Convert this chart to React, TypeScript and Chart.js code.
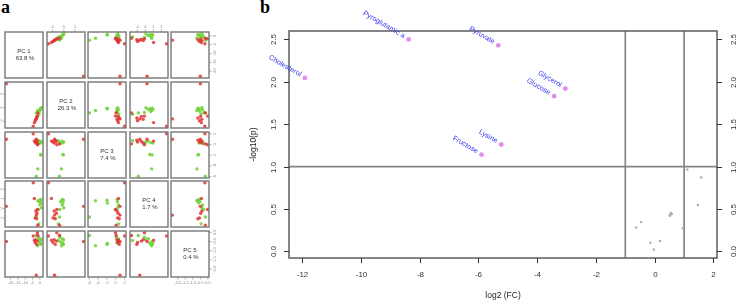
import React, { useEffect, useRef } from 'react';
import { Chart, registerables } from 'chart.js';

Chart.register(...registerables);

// ---------------- panel a : PCA score pairs ----------------
const pcNames = ['PC 1', 'PC 2', 'PC 3', 'PC 4', 'PC 5'];
const pcVariance = ['63.8 %', '26.3 %', '7.4 %', '1.7 %', '0.4 %'];

const pc1Red = [-22.9, -4.5, -2.45, -1.4, -3.75, -3.2, -2.7, -2.2, -1.65, -1.95];
const pc2Red = [8.8, -6.88, -4.15, -1.94, -5.52, -4.83, -4.32, -3.81, -3.13, -3.3];
const pc3Red = [0.99, 2.03, 0.99, 0.13, 0.65, 0.47, 0.3, 0.82, -0.05, 0.56];
const pc4Red = [0.21, 2.67, -0.7, -1.76, 1.03, -0.99, -0.27, -1.08, -0.12, -0.51];
const pc5Red = [-0.5, -0.2, -2.35, -0.17, -0.43, -0.56, -0.4, -0.66, -0.02, -0.48];

const pc1Green = [0.65, 0.65, -1.4, -2.45, 1.2, 0.15, -0.35, -0.9, -0.65, 0.4];
const pc2Green = [-0.4, -0.23, -1.08, -1.94, -0.06, -0.74, -1.43, -1.77, -2.45, -0.57];
const pc3Green = [-1.87, -1.95, -4.56, -5.94, 0.47, 0.65, 0.39, 0.13, 0.73, 0.3];
const pc4Green = [0.55, 0.84, 0.79, -0.89, 0.07, 0.36, 0.7, -0.12, -1.61, 0.94];
const pc5Green = [-0.61, -0.66, -0.73, -0.17, -0.4, -0.35, -0.53, -0.27, -0.45, -0.58];

const pc1Ticks = [-20, -15, -10, -5, 0];
const pc2Ticks = [-5, 0, 5];
const pc3Ticks = [-6, -4, -2, 0, 2];
const pc4Ticks = [-1, 0, 1, 2];
const pc5Ticks = [-2, -1.5, -1, -0.5, 0];

const pcRed = [pc1Red, pc2Red, pc3Red, pc4Red, pc5Red];
const pcGreen = [pc1Green, pc2Green, pc3Green, pc4Green, pc5Green];
const pcTicks = [pc1Ticks, pc2Ticks, pc3Ticks, pc4Ticks, pc5Ticks];

// ---------------- panel b : volcano ----------------
const metabolites = ['Cholesterol', 'Pyroglutamic a', 'Pyruvate', 'Glycerol', 'Glucose', 'Lysine', 'Fructose'];
const sigLog2FC = [-11.9, -8.37, -5.32, -3.04, -3.42, -5.22, -5.89];
const sigNegLog10P = [2.045, 2.5, 2.43, 1.92, 1.83, 1.26, 1.14];
const nsLog2FC = [1.11, 1.58, 1.47, 0.96, 0.51, 0.55, 0.58, 0.53, -0.46, -0.63, -0.15, 0.18, -0.03];
const nsNegLog10P = [0.965, 0.87, 0.545, 0.27, 0.42, 0.45, 0.44, 0.43, 0.345, 0.28, 0.1, 0.12, 0.02];
const fcTicks = [-12, -10, -8, -6, -4, -2, 0, 2];
const pTicks = [0, 0.5, 1, 1.5, 2, 2.5];
const fcThresholds = [-1, 1];
const pThreshold = 1;

// ---------------- helpers ----------------
const FONT = '"Liberation Sans", Arial, sans-serif';

function extRange(values: number[]): [number, number] {
  const mn = Math.min(...values);
  const mx = Math.max(...values);
  const d = (mx - mn) * 0.04;
  return [mn - d, mx + d];
}

function fmtTick(v: number, ticks: number[]) {
  return ticks.some((t) => !Number.isInteger(t)) ? v.toFixed(1) : String(v);
}

// layout of the pairs grid
const colLeft = [5, 47, 88, 130, 171];
const rowTop = [32, 82, 132, 181, 231];
const CW = 38;
const CH = 46;
const M = 14;

const cellPlugin = {
  id: 'cell',
  afterDraw(chart: any, _args: any, opts: any) {
    const { ctx, chartArea: a } = chart;
    const i: number = opts.i;
    const j: number = opts.j;
    const xs = chart.scales.x;
    const ys = chart.scales.y;
    ctx.save();
    ctx.strokeStyle = '#777';
    ctx.lineWidth = 1.4;
    ctx.strokeRect(a.left, a.top, a.right - a.left, a.bottom - a.top);

    if (i === j) {
      ctx.fillStyle = '#333';
      ctx.font = `6px ${FONT}`;
      ctx.textAlign = 'center';
      ctx.textBaseline = 'middle';
      const cx = (a.left + a.right) / 2;
      const cy = (a.top + a.bottom) / 2;
      ctx.fillText(pcNames[i], cx, cy - 3.6);
      ctx.fillText(pcVariance[i], cx + 1, cy + 3.8);
    }

    ctx.strokeStyle = '#888';
    ctx.lineWidth = 0.7;
    ctx.fillStyle = '#888';
    ctx.font = `3.8px ${FONT}`;
    ctx.textAlign = 'center';
    ctx.textBaseline = 'middle';
    const TL = 2.5;
    const LO = 5.5;
    if (i === 4 && j % 2 === 0) {
      const t = pcTicks[j];
      t.forEach((v) => {
        const px = xs.getPixelForValue(v);
        ctx.beginPath();
        ctx.moveTo(px, a.bottom);
        ctx.lineTo(px, a.bottom + TL);
        ctx.stroke();
        ctx.fillText(fmtTick(v, t), px, a.bottom + LO + 0.5);
      });
    }
    if (i === 0 && j % 2 === 1) {
      const t = pcTicks[j];
      t.forEach((v) => {
        const px = xs.getPixelForValue(v);
        ctx.beginPath();
        ctx.moveTo(px, a.top);
        ctx.lineTo(px, a.top - TL);
        ctx.stroke();
        ctx.fillText(fmtTick(v, t), px, a.top - LO);
      });
    }
    if (j === 0 && i % 2 === 1) {
      const t = pcTicks[i];
      t.forEach((v) => {
        const py = ys.getPixelForValue(v);
        ctx.beginPath();
        ctx.moveTo(a.left, py);
        ctx.lineTo(a.left - TL, py);
        ctx.stroke();
        ctx.save();
        ctx.translate(a.left - LO + 1.5, py);
        ctx.rotate(-Math.PI / 2);
        ctx.fillText(fmtTick(v, t), 0, 0);
        ctx.restore();
      });
    }
    if (j === 4 && i % 2 === 0) {
      const t = pcTicks[i];
      t.forEach((v) => {
        const py = ys.getPixelForValue(v);
        ctx.beginPath();
        ctx.moveTo(a.right, py);
        ctx.lineTo(a.right + TL, py);
        ctx.stroke();
        ctx.save();
        ctx.translate(a.right + LO, py);
        ctx.rotate(-Math.PI / 2);
        ctx.fillText(fmtTick(v, t), 0, 0);
        ctx.restore();
      });
    }
    ctx.restore();
  },
};

function PairCell({ i, j }: { i: number; j: number }) {
  const ref = useRef<HTMLCanvasElement>(null);
  useEffect(() => {
    const canvas = ref.current;
    if (!canvas) return;
    const xr = extRange([...pcRed[j], ...pcGreen[j]]);
    const yr = extRange([...pcRed[i], ...pcGreen[i]]);
    const datasets =
      i === j
        ? []
        : [
            {
              label: 'group 1',
              data: pcRed[i].map((_, k) => ({ x: pcRed[j][k], y: pcRed[i][k] })),
              backgroundColor: 'rgba(226,52,52,0.85)',
              borderWidth: 0,
              pointRadius: 1.7,
            },
            {
              label: 'group 2',
              data: pcGreen[i].map((_, k) => ({ x: pcGreen[j][k], y: pcGreen[i][k] })),
              backgroundColor: 'rgba(115,212,60,0.9)',
              borderWidth: 0,
              pointRadius: 1.7,
            },
          ];
    const chart = new Chart(canvas, {
      type: 'scatter',
      data: { datasets },
      options: {
        animation: false,
        responsive: false,
        events: [],
        layout: { padding: M },
        scales: {
          x: { type: 'linear', display: false, min: xr[0], max: xr[1] },
          y: { type: 'linear', display: false, min: yr[0], max: yr[1] },
        },
        plugins: {
          legend: { display: false },
          tooltip: { enabled: false },
          cell: { i, j },
        } as any,
      },
      plugins: [cellPlugin as any],
    });
    return () => chart.destroy();
  }, [i, j]);
  return (
    <canvas
      ref={ref}
      width={CW + 2 * M}
      height={CH + 2 * M}
      style={{ position: 'absolute', left: colLeft[j] - M, top: rowTop[i] - M }}
    />
  );
}

const volcanoPlugin = {
  id: 'volcanoDecor',
  beforeDatasetsDraw(chart: any) {
    const { ctx, chartArea: a } = chart;
    const x = chart.scales.x;
    const y = chart.scales.y;
    ctx.save();
    ctx.strokeStyle = '#858585';
    ctx.lineWidth = 1.7;
    ctx.beginPath();
    const py = y.getPixelForValue(pThreshold);
    ctx.moveTo(a.left, py);
    ctx.lineTo(a.right, py);
    fcThresholds.forEach((v) => {
      const px = x.getPixelForValue(v);
      ctx.moveTo(px, a.top);
      ctx.lineTo(px, a.bottom);
    });
    ctx.stroke();
    ctx.restore();
  },
  afterDatasetsDraw(chart: any) {
    const { ctx, chartArea: a } = chart;
    const x = chart.scales.x;
    const y = chart.scales.y;
    ctx.save();
    // box
    ctx.strokeStyle = '#5e5e5e';
    ctx.lineWidth = 1.5;
    ctx.strokeRect(a.left, a.top, a.right - a.left, a.bottom - a.top);

    // ticks
    ctx.strokeStyle = '#333';
    ctx.lineWidth = 1;
    ctx.fillStyle = '#333';
    ctx.font = `8px ${FONT}`;
    ctx.textAlign = 'center';
    ctx.textBaseline = 'middle';
    fcTicks.forEach((v) => {
      const px = Math.round(x.getPixelForValue(v)) + 0.5;
      ctx.beginPath();
      ctx.moveTo(px, a.bottom);
      ctx.lineTo(px, a.bottom + 5);
      ctx.stroke();
      ctx.fillText(fmtTick(v, fcTicks), px, a.bottom + 17);
    });
    pTicks.forEach((v) => {
      const py = Math.round(y.getPixelForValue(v)) + 0.5;
      ctx.beginPath();
      ctx.moveTo(a.left, py);
      ctx.lineTo(a.left - 5, py);
      ctx.moveTo(a.right, py);
      ctx.lineTo(a.right + 5, py);
      ctx.stroke();
      const lab = v.toFixed(1);
      ctx.save();
      ctx.translate(a.left - 15, py);
      ctx.rotate(-Math.PI / 2);
      ctx.fillText(lab, 0, 0);
      ctx.restore();
      ctx.save();
      ctx.translate(a.right + 17, py);
      ctx.rotate(-Math.PI / 2);
      ctx.fillText(lab, 0, 0);
      ctx.restore();
    });

    // axis titles
    ctx.font = `8.5px ${FONT}`;
    ctx.fillStyle = '#222';
    ctx.fillText('log2 (FC)', (a.left + a.right) / 2, a.bottom + 38);
    ctx.save();
    ctx.translate(a.left - 35, (a.top + a.bottom) / 2);
    ctx.rotate(-Math.PI / 2);
    ctx.fillText('-log10(p)', 0, 0);
    ctx.restore();

    // point labels
    ctx.font = `7.2px ${FONT}`;
    ctx.fillStyle = '#3434f4';
    ctx.textAlign = 'right';
    metabolites.forEach((name, k) => {
      const px = x.getPixelForValue(sigLog2FC[k]);
      const py = y.getPixelForValue(sigNegLog10P[k]);
      ctx.save();
      ctx.translate(px, py);
      ctx.rotate(Math.PI / 6);
      ctx.fillText(name, -5, -0.5);
      ctx.restore();
    });
    ctx.restore();
  },
};

function Volcano() {
  const ref = useRef<HTMLCanvasElement>(null);
  useEffect(() => {
    const canvas = ref.current;
    if (!canvas) return;
    const xr = extRange([...sigLog2FC, ...nsLog2FC]);
    const yr = extRange([...sigNegLog10P, ...nsNegLog10P]);
    const chart = new Chart(canvas, {
      type: 'scatter',
      data: {
        datasets: [
          {
            label: 'significant',
            data: sigLog2FC.map((v, k) => ({ x: v, y: sigNegLog10P[k] })),
            backgroundColor: '#e48cf0',
            borderWidth: 0,
            pointRadius: 2.4,
          },
          {
            label: 'not significant',
            data: nsLog2FC.map((v, k) => ({ x: v, y: nsNegLog10P[k] })),
            backgroundColor: '#b0b0b0',
            borderWidth: 0,
            pointRadius: 1.3,
          },
        ],
      },
      options: {
        animation: false,
        responsive: false,
        events: [],
        layout: { padding: { left: 49, right: 21, top: 31, bottom: 43 } },
        scales: {
          x: { type: 'linear', display: false, min: xr[0], max: xr[1] },
          y: { type: 'linear', display: false, min: yr[0], max: yr[1] },
        },
        plugins: { legend: { display: false }, tooltip: { enabled: false } },
      },
      plugins: [volcanoPlugin as any],
    });
    return () => chart.destroy();
  }, []);
  return <canvas ref={ref} width={498} height={301} style={{ position: 'absolute', left: 240, top: 0 }} />;
}

export default function App() {
  const cells: { i: number; j: number }[] = [];
  for (let i = 0; i < 5; i++) for (let j = 0; j < 5; j++) cells.push({ i, j });
  const letter: React.CSSProperties = {
    position: 'absolute',
    font: 'bold 18px "Liberation Serif", "Times New Roman", serif',
    lineHeight: '18px',
    color: '#000',
  };
  return (
    <div
      style={{
        position: 'fixed',
        left: 0,
        top: 0,
        width: 738,
        height: 301,
        background: '#fff',
        overflow: 'hidden',
      }}
    >
      <div style={{ ...letter, left: 1, top: -2 }}>a</div>
      <div style={{ ...letter, left: 260, top: -2 }}>b</div>
      {cells.map((c) => (
        <PairCell key={`${c.i}-${c.j}`} i={c.i} j={c.j} />
      ))}
      <Volcano />
    </div>
  );
}
